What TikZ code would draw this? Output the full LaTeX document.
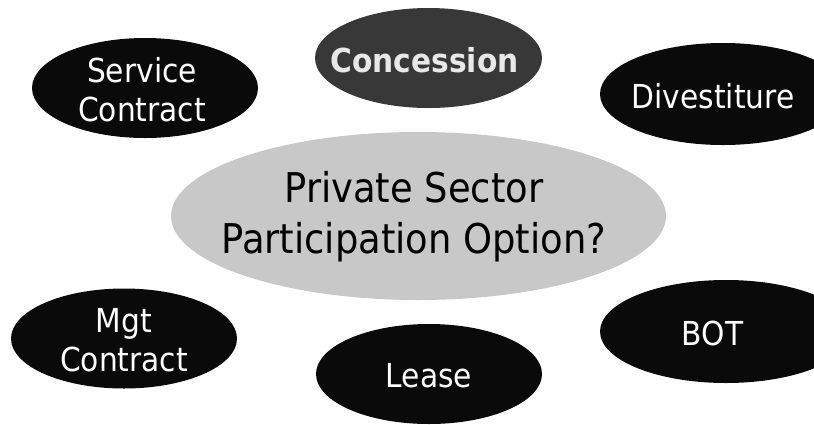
\documentclass[tikz,border=0pt]{standalone}
\usepackage{fontspec}
\setmainfont{DejaVu Sans Condensed}
\usetikzlibrary{shapes.geometric}
\definecolor{ovalblack}{HTML}{0A0A0A}
\definecolor{concfill}{HTML}{383838}
\definecolor{conctext}{HTML}{E8E8E8}
\definecolor{centerfill}{HTML}{C8C8C8}
\tikzset{
  oval/.style={ellipse, inner sep=0pt, outer sep=0pt, draw=none},
  blackov/.style={oval, fill=ovalblack, minimum width=226pt, minimum height=100pt},
  concov/.style={oval, fill=concfill, minimum width=227pt, minimum height=100pt},
  centerov/.style={oval, fill=centerfill, minimum width=495pt, minimum height=168pt},
  lbl/.style={inner sep=0pt, text=white, align=center, font=\fontsize{33}{39}\selectfont},
  conclbl/.style={lbl, text=conctext, font=\fontsize{33}{39}\selectfont\bfseries},
  centerlbl/.style={lbl, text=black, font=\fontsize{41}{51}\selectfont}
}
\begin{document}
\begin{tikzpicture}[x=1pt,y=-1pt]
\useasboundingbox (0,0) rectangle (814,424);
\node[centerov] (center) at (418.5,216) {};
\node[centerlbl] (centertext) at (414,217) {Private Sector\\Participation Option?};
\node[blackov] (service) at (145,88) {};
\node[lbl] (servicetext) at (142,90) {Service\\Contract};
\node[concov] (conc) at (428.5,58) {};
\node[conclbl] (conctext) at (424.5,60) {Concession};
\node[blackov, minimum width=246pt, minimum height=102pt] (div) at (723,94) {};
\node[lbl] (divtext) at (713,96) {Divestiture};
\node[blackov] (mgt) at (124,338.5) {};
\node[lbl] (mgttext) at (124,340) {Mgt\\Contract};
\node[blackov] (lease) at (429,374) {};
\node[lbl] (leasetext) at (429,376) {Lease};
\node[blackov, minimum width=252pt, minimum height=103pt] (bot) at (726,331.5) {};
\node[lbl] (bottext) at (712.5,333) {BOT};
\end{tikzpicture}
\end{document}
